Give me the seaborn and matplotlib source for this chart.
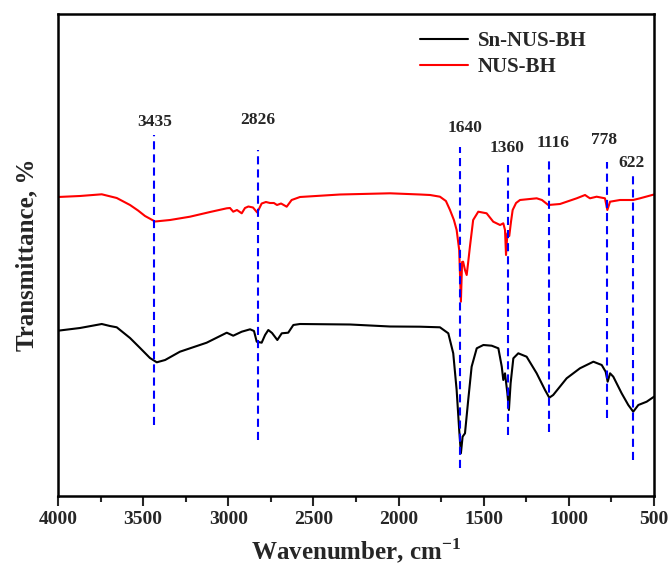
import numpy as np
import pandas as pd
import seaborn as sns
import matplotlib
matplotlib.use("Agg")
import matplotlib.pyplot as plt

# ---------------- data ----------------
red_wn = [4000, 3871, 3743, 3655, 3577, 3530, 3489, 3430, 3342, 3225, 3107, 3009, 2990,
          2971, 2949, 2921, 2902, 2882, 2855, 2830, 2804, 2779, 2755, 2732, 2714,
          2690, 2657, 2628, 2579, 2344, 2050, 1874, 1815, 1757, 1722, 1698, 1675,
          1659, 1644, 1634, 1627, 1621, 1610, 1600, 1591, 1581, 1562, 1532, 1483,
          1444, 1404, 1385, 1375, 1369, 1361, 1350, 1340, 1330, 1310, 1287, 1189,
          1158, 1121, 1052, 954, 905, 888, 876, 837, 788, 774, 758, 700, 622, 582, 500]
red_t = [299, 300, 301.7, 298, 291, 285.5, 280, 274.5, 276, 279.3, 284, 287.7, 288,
         284.3, 286, 282.7, 288, 289.5, 288.5, 283.5, 292.5, 294, 293, 293, 291,
         292.5, 289.3, 296, 299, 301.5, 302.7, 301.5, 301, 299.3, 295, 286, 276,
         266, 246, 194.3, 234, 234.3, 226, 221, 234, 249.3, 276, 284.3, 282.7,
         274.3, 271, 272.7, 266, 241, 262.7, 260, 274, 286, 293, 296, 297.7,
         296, 291, 292, 297.7, 301, 299, 297.7, 299.3, 297.7, 286, 294.3, 296, 296, 297.7, 301.5]

black_wn = [4000, 3871, 3743, 3695, 3655, 3577, 3518, 3489, 3460, 3420, 3371, 3284, 3127, 3009,
            2971, 2921, 2872, 2849, 2833, 2804, 2784, 2765, 2743, 2712, 2686, 2648,
            2618, 2579, 2285, 2050, 1874, 1757, 1708, 1679, 1659, 1644, 1634, 1624,
            1610, 1591, 1571, 1541, 1502, 1453, 1414, 1394, 1385, 1375, 1361, 1352,
            1342, 1326, 1297, 1248, 1189, 1140, 1115, 1092, 1013, 935, 856, 807,
            784, 772, 758, 739, 690, 651, 622, 592, 543, 500]
black_t = [165.3, 168, 172, 170, 168.7, 158, 148, 143, 138, 133.7, 136, 144.3, 153.3, 163.3,
           160.3, 164.3, 166.7, 165, 154.3, 153.3, 161, 166, 163, 156, 162.7, 163.3,
           171, 172, 171.5, 169.5, 169.3, 168.7, 162.7, 142.7, 106, 66, 42.7, 59.3,
           62.7, 96, 129.3, 147.7, 151, 150.3, 147.7, 129.3, 116, 122.7, 102.7, 86,
           112.7, 137.7, 142.7, 139.3, 122.7, 106, 98.3, 101, 117.7, 127.7, 134.3, 131,
           124.3, 114.3, 122.7, 119.3, 102.7, 91, 84.3, 91, 94.3, 99.3]

series_names = ["Sn-NUS-BH", "NUS-BH"]

peak_labels = ["3435", "2826", "1640", "1360", "1116", "778", "622"]
peak_wn = [3435, 2826, 1640, 1360, 1116, 778, 622]
peak_line_top = [361, 346, 349.3, 331, 336.7, 334.3, 322]
peak_line_bottom = [71, 56, 27.7, 61, 64.3, 77.7, 36]
peak_label_wn = [3430, 2825, 1610, 1361, 1095, 794, 631]
peak_label_t = [374, 376, 367.7, 347.7, 352.7, 356, 332.7]

x_ticks = [4000, 3500, 3000, 2500, 2000, 1500, 1000, 500]

# ---------------- figure ----------------
sns.set_style("ticks")
plt.rcParams["font.family"] = ["Liberation Serif", "DejaVu Serif"]
plt.rcParams["font.weight"] = "bold"
plt.rcParams["mathtext.fontset"] = "custom"
plt.rcParams["mathtext.rm"] = "Liberation Serif:bold"
plt.rcParams["mathtext.bf"] = "Liberation Serif:bold"

fig = plt.figure(figsize=(6.68, 5.73), dpi=100)
ax = fig.add_axes([58 / 668, 77 / 573, 596 / 668, 482 / 573])

df_black = pd.DataFrame({"wn": black_wn, "t": black_t})
df_red = pd.DataFrame({"wn": red_wn, "t": red_t})

sns.lineplot(data=df_black, x="wn", y="t", color="black", lw=1.5, ax=ax,
             label=series_names[0], sort=False)
sns.lineplot(data=df_red, x="wn", y="t", color="red", lw=1.5, ax=ax,
             label=series_names[1], sort=False)

ax.vlines(peak_wn, peak_line_bottom, peak_line_top, colors="blue",
          linestyles=(0, (3.9, 2.4)), lw=1.5)
for lab, xw, yt in zip(peak_labels, peak_label_wn, peak_label_t):
    ax.text(xw, yt, lab, ha="center", va="center", fontsize=12.5, fontweight="bold")

ax.set_xlim(4000, 500)
ax.set_ylim(0, 482)
ax.set_xticks(x_ticks)
ax.set_xticklabels([str(v) for v in x_ticks], fontsize=14, fontweight="bold")
ax.set_xticks([3750, 3250, 2750, 2250, 1750, 1250, 750], minor=True)
ax.set_yticks([])
ax.tick_params(axis="x", which="major", direction="out", length=7, width=1.5, pad=4)
ax.tick_params(axis="x", which="minor", direction="out", length=4, width=1.5)
for sp in ax.spines.values():
    sp.set_linewidth(1.8)
    sp.set_color("black")

ax.set_xlabel(r"Wavenumber, cm$^{-1}$", fontsize=18, fontweight="bold", labelpad=6)
ax.set_ylabel("Transmittance, %", fontsize=18, fontweight="bold", labelpad=14)

leg = ax.legend(loc="upper left", bbox_to_anchor=(0.607, 0.965), frameon=False,
                prop={"size": 15, "weight": "bold"}, handlelength=2.3,
                handletextpad=0.5, labelspacing=0.3, borderpad=0, borderaxespad=0)
for h in leg.get_lines():
    h.set_linewidth(1.5)

fig.savefig("out.png", dpi=100)
